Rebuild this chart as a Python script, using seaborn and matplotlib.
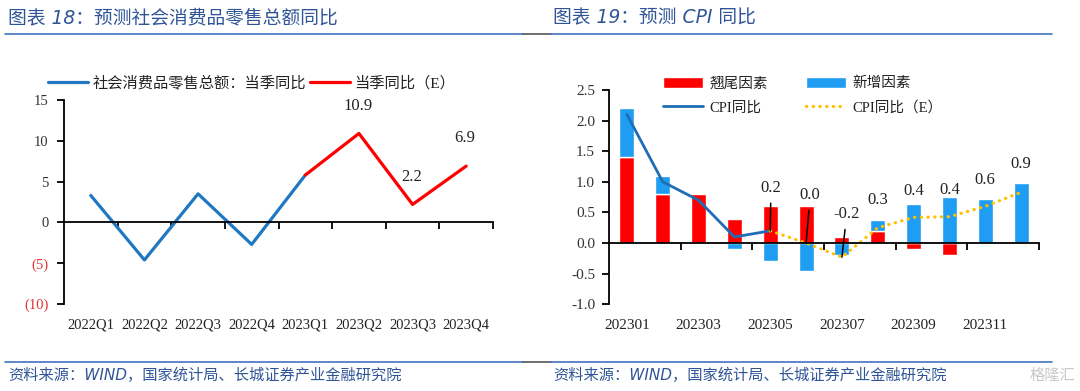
import numpy as np
import matplotlib.pyplot as plt
import seaborn as sns
from matplotlib.lines import Line2D
from matplotlib.patches import Patch

# left chart: retail sales yoy by quarter
quarters = ['2022Q1', '2022Q2', '2022Q3', '2022Q4', '2023Q1', '2023Q2', '2023Q3', '2023Q4']
retail_actual = [3.3, -4.6, 3.5, -2.7, 5.8]          # 2022Q1 - 2023Q1
retail_est = [5.8, 10.9, 2.2, 6.9]                   # 2023Q1 - 2023Q4
retail_est_labels = ['', '10.9', '2.2', '6.9']
retail_yticks = [-10, -5, 0, 5, 10, 15]
retail_yticklabels = ['(10)', '(5)', '0', '5', '10', '15']

# right chart: CPI yoy by month
months = ['202301', '202302', '202303', '202304', '202305', '202306',
          '202307', '202308', '202309', '202310', '202311', '202312']
tail_factor = [1.4, 0.8, 0.8, 0.4, 0.6, 0.6, 0.1, 0.2, -0.1, -0.2, 0.0, 0.0]
new_factor = [0.8, 0.3, 0.0, -0.1, -0.3, -0.46, -0.2, 0.18, 0.63, 0.76, 0.72, 0.98]
cpi_actual = [2.1, 1.0, 0.7, 0.1, 0.2]                               # Jan - May
cpi_est = [0.2, 0.0, -0.23, 0.25, 0.42, 0.43, 0.6, 0.83]             # May - Dec
cpi_est_labels = ['0.2', '0.0', '-0.2', '0.3', '0.4', '0.4', '0.6', '0.9']

sns.set_style('white')
plt.rcParams['font.family'] = ['Liberation Serif', 'Noto Sans CJK SC']
plt.rcParams['axes.unicode_minus'] = False

BLUE_LINE = '#1F78C1'
RED = '#FF0000'
BAR_BLUE = '#1E9DF2'
CPI_BLUE = '#1F6DB5'
YELLOW = '#FFC000'
TXT = '#222222'
HEAD = '#2F5597'
RULE = '#4472C4'

W, H = 1080, 391
fig = plt.figure(figsize=(W / 100, H / 100), dpi=100)
ax1 = fig.add_axes([64 / W, 87 / H, 429 / W, 204 / H])
ax2 = fig.add_axes([609 / W, 86.7 / H, 430 / W, 214.3 / H])

# ---------- left chart ----------
x_act = np.arange(len(retail_actual))
x_est = np.arange(len(retail_actual) - 1, len(quarters))
sns.lineplot(x=x_act, y=retail_actual, color=BLUE_LINE, lw=2.3, ax=ax1)
sns.lineplot(x=x_est, y=retail_est, color=RED, lw=2.3, ax=ax1)

for xi, yi, lab in zip(x_est, retail_est, retail_est_labels):
    if lab:
        ax1.annotate(lab, (xi, yi), xytext=(-1, 20), textcoords='offset points',
                     ha='center', va='center', fontsize=12, color=TXT)

ax1.set_xlim(-0.5, len(quarters) - 0.5)
ax1.set_ylim(-10, 15)
ax1.spines[['top', 'right']].set_visible(False)
ax1.spines['bottom'].set_position(('data', 0))
for s in ['left', 'bottom']:
    ax1.spines[s].set_color('black')
    ax1.spines[s].set_linewidth(1.3)
ax1.set_xticks(np.arange(0.5, len(quarters)))
ax1.set_xticklabels([])
ax1.tick_params(axis='x', direction='out', length=5, width=1.3, color='black', bottom=True)
ax1.set_yticks(retail_yticks)
ax1.set_yticklabels(retail_yticklabels)
ax1.tick_params(axis='y', direction='out', length=5, width=1.3, color='black', left=True,
                labelsize=10.5, pad=6)
for t, v in zip(ax1.get_yticklabels(), retail_yticks):
    t.set_color('#E03535' if v < 0 else '#333333')
for i, q in enumerate(quarters):
    ax1.annotate(q, (i, 0), xycoords=('data', 'axes fraction'), xytext=(0, -15),
                 textcoords='offset points', ha='center', va='center',
                 fontsize=10.5, color=TXT)
ax1.set_xlabel('')
ax1.set_ylabel('')

leg1 = [Line2D([], [], color=BLUE_LINE, lw=2.3), Line2D([], [], color=RED, lw=2.3)]
fig.legend(leg1, ['社会消费品零售总额：当季同比', '当季同比（E）'], ncol=2,
           loc='center left', bbox_to_anchor=(48 / W, 1 - 83 / H), frameon=False,
           fontsize=11, handlelength=2.6, handletextpad=0.3, columnspacing=0.3,
           borderpad=0, borderaxespad=0, labelcolor=TXT)

# ---------- right chart ----------
xm = np.arange(len(months))
tail = np.array(tail_factor)
new = np.array(new_factor)
new_bottom = np.where(np.sign(new) == np.sign(tail), tail, 0)
ax2.bar(xm, tail, width=0.42, color=RED, zorder=2)
ax2.bar(xm, new, bottom=new_bottom, width=0.42, color=BAR_BLUE, zorder=2)

x_cpi_act = np.arange(len(cpi_actual))
x_cpi_est = np.arange(len(cpi_actual) - 1, len(months))
sns.lineplot(x=x_cpi_act, y=cpi_actual, color=CPI_BLUE, lw=2.0, ax=ax2, zorder=3)
sns.lineplot(x=x_cpi_est, y=cpi_est, color=YELLOW, lw=2.3, linestyle=(0, (0.1, 2.0)),
             dash_capstyle='round', ax=ax2, zorder=3)

# label offsets (points) and whether a leader line is drawn
lab_dx = [0.5, 3, 3.5, 0, 0, 0, 0, -0.5]
lab_dy = [31, 34.5, 31, 20, 19, 19.5, 19, 20]
lab_leader = [True, True, True, False, False, False, False, False]
for xi, yi, lab, dx, dy, ld in zip(x_cpi_est, cpi_est, cpi_est_labels, lab_dx, lab_dy, lab_leader):
    props = dict(arrowstyle='-', color='black', lw=1.1, shrinkA=3, shrinkB=0) if ld else None
    ax2.annotate(lab, (xi, yi), xytext=(dx, dy), textcoords='offset points',
                 ha='center', va='center', fontsize=12, color=TXT,
                 arrowprops=props, zorder=4)

ax2.set_xlim(-0.5, len(months) - 0.5)
ax2.set_ylim(-1.0, 2.5)
ax2.spines[['top', 'right']].set_visible(False)
ax2.spines['bottom'].set_position(('data', 0))
for s in ['left', 'bottom']:
    ax2.spines[s].set_color('black')
    ax2.spines[s].set_linewidth(1.3)
    ax2.spines[s].set_zorder(3)
ax2.set_xticks(np.arange(1.5, len(months), 2))
ax2.set_xticklabels([])
ax2.tick_params(axis='x', direction='out', length=5, width=1.3, color='black', bottom=True)
cpi_yticks = np.arange(-1.0, 2.51, 0.5)
ax2.set_yticks(cpi_yticks)
ax2.set_yticklabels([f'{v:.1f}' for v in cpi_yticks])
ax2.tick_params(axis='y', direction='out', length=5, width=1.3, color='black', left=True,
                labelsize=11, labelcolor='#333333', pad=5)
for i, m in enumerate(months):
    if i % 2 == 0:
        ax2.annotate(m, (i, 0), xycoords=('data', 'axes fraction'), xytext=(0, -15),
                     textcoords='offset points', ha='center', va='center',
                     fontsize=11, color=TXT)
ax2.set_xlabel('')
ax2.set_ylabel('')

leg2 = [Patch(facecolor=RED),
        Line2D([], [], color=CPI_BLUE, lw=2.0),
        Patch(facecolor=BAR_BLUE),
        Line2D([], [], color=YELLOW, lw=2.3, linestyle=(0, (0.1, 2.0)), dash_capstyle='round')]
fig.legend(leg2, ['翘尾因素', 'CPI同比', '新增因素', 'CPI同比（E）'], ncol=2,
           loc='center left', bbox_to_anchor=(663 / W, 1 - 95.5 / H), frameon=False,
           fontsize=10.5, handlelength=2.75, handleheight=0.85, handletextpad=0.45,
           columnspacing=2.6, labelspacing=0.7, borderpad=0, borderaxespad=0,
           labelcolor=TXT)

# ---------- headers, sources, rules ----------
head_font = ['DejaVu Sans', 'Noto Sans CJK SC']
fig.text(8 / W, 1 - 18 / H, '图表 18：预测社会消费品零售总额同比', fontsize=13.5, color=HEAD,
         style='italic', family=head_font, va='center', ha='left')
fig.text(553 / W, 1 - 18 / H, '图表 19：预测 CPI 同比', fontsize=13.5, color=HEAD,
         style='italic', family=head_font, va='center', ha='left')
src = '资料来源：WIND，国家统计局、长城证券产业金融研究院'
fig.text(8 / W, 1 - 375 / H, src, fontsize=11, color=HEAD, style='italic',
         family=head_font, va='center', ha='left')
fig.text(553 / W, 1 - 375 / H, src, fontsize=11, color=HEAD, style='italic',
         family=head_font, va='center', ha='left')
fig.text(1075 / W, 1 - 375 / H, '格隆汇', fontsize=11, color='#C8C8C8',
         family=head_font, va='center', ha='right')

for yy in [34, 362]:
    fy = 1 - yy / H
    fig.add_artist(Line2D([5 / W, 523 / W], [fy, fy], color=RULE, lw=1.2))
    fig.add_artist(Line2D([523 / W, 551 / W], [fy, fy], color='#555555', lw=1.2))
    fig.add_artist(Line2D([551 / W, 1052 / W], [fy, fy], color=RULE, lw=1.2))

fig.savefig('out.png', dpi=100)
